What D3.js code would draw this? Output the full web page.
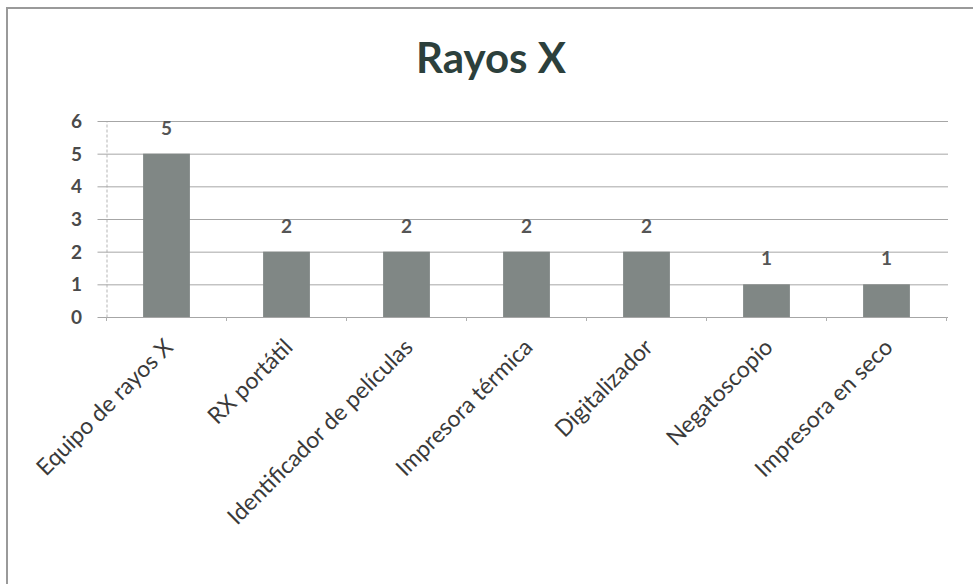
<!DOCTYPE html>
<html>
<head>
<meta charset="utf-8">
<script src="https://cdn.jsdelivr.net/npm/d3@7/dist/d3.min.js"></script>
<style>
  html, body { margin: 0; padding: 0; background: #ffffff; }
  svg { display: block; }
</style>
</head>
<body>
<svg id="chart" width="973" height="584"></svg>
<script>
// Equipment inventory for the X-ray service
const categories = [
  "Equipo de rayos X",
  "RX portátil",
  "Identificador de películas",
  "Impresora térmica",
  "Digitalizador",
  "Negatoscopio",
  "Impresora en seco"
];
const counts = [5, 2, 2, 2, 2, 1, 1];
const yTicks = [0, 1, 2, 3, 4, 5, 6];
const title = "Rayos X";

const svg = d3.select("#chart");
const W = 973, H = 584;
const plot = { left: 106.5, right: 946.5, top: 121, bottom: 317 };

// outer frame (left and top edges)
svg.append("path")
  .attr("d", `M7,${H} L7,8 L${W},8`)
  .attr("fill", "none")
  .attr("stroke", "#9a9a9a")
  .attr("stroke-width", 2);

const x = d3.scaleBand()
  .domain(categories)
  .range([plot.left, plot.right])
  .paddingInner(0.61)
  .paddingOuter(0.305);

const y = d3.scaleLinear()
  .domain([0, 6])
  .range([plot.bottom, plot.top]);

// horizontal gridlines with small ticks left of the axis
const yAxis = d3.axisLeft(y)
  .tickValues(yTicks)
  .tickSize(-(plot.right - plot.left + 1.5))
  .tickSizeOuter(0)
  .tickFormat("");
const gy = svg.append("g")
  .attr("transform", `translate(${plot.left},0)`)
  .call(yAxis);
gy.select(".domain").attr("stroke", "#b5b5b5").attr("stroke-dasharray", "3,2");
gy.selectAll(".tick line")
  .attr("stroke", "#a6a6a6")
  .attr("stroke-width", 1)
  .attr("x1", -9);

// y tick labels
svg.append("g").selectAll("text")
  .data(yTicks)
  .join("text")
  .attr("x", 82)
  .attr("y", d => y(d))
  .attr("dy", "0.36em")
  .attr("text-anchor", "end")
  .attr("font-family", "Lato, 'Open Sans', sans-serif")
  .attr("font-weight", 700)
  .attr("font-size", 19)
  .attr("fill", "#4a4a4a")
  .text(d => d);

// bars
svg.append("g").selectAll("rect")
  .data(categories)
  .join("rect")
  .attr("x", d => x(d))
  .attr("y", (d, i) => y(counts[i]))
  .attr("width", x.bandwidth())
  .attr("height", (d, i) => y(0) - y(counts[i]))
  .attr("fill", "#808785");

// x axis: baseline and category separator ticks
const xAxis = d3.axisBottom(x).tickSize(0).tickFormat("");
svg.append("g")
  .attr("transform", `translate(0,${plot.bottom})`)
  .call(xAxis)
  .select(".domain").attr("stroke", "#a6a6a6");
const step = x.step();
svg.append("g").selectAll("line")
  .data(d3.range(categories.length + 1))
  .join("line")
  .attr("x1", i => plot.left + i * step)
  .attr("x2", i => plot.left + i * step)
  .attr("y1", plot.bottom)
  .attr("y2", plot.bottom + 4)
  .attr("stroke", "#b0b0b0");

// value labels
svg.append("g").selectAll("text")
  .data(categories)
  .join("text")
  .attr("x", d => x(d) + x.bandwidth() / 2)
  .attr("y", (d, i) => y(counts[i]) - 19)
  .attr("text-anchor", "middle")
  .attr("font-family", "Lato, 'Open Sans', sans-serif")
  .attr("font-weight", 700)
  .attr("font-size", 19)
  .attr("fill", "#555555")
  .text((d, i) => counts[i]);

// rotated category labels
svg.append("g").selectAll("text")
  .data(categories)
  .join("text")
  .attr("transform", d => `translate(${x(d) + x.bandwidth() / 2 + 2},343) rotate(-45)`)
  .attr("dy", "0.35em")
  .attr("text-anchor", "end")
  .attr("font-family", "Lato, 'Open Sans', sans-serif")
  .attr("font-size", 23)
  .attr("fill", "#3a3a3a")
  .text(d => d);

// title
svg.append("text")
  .attr("x", 491)
  .attr("y", 73)
  .attr("text-anchor", "middle")
  .attr("font-family", "Lato, 'Open Sans', sans-serif")
  .attr("font-weight", 700)
  .attr("font-size", 42)
  .attr("fill", "#2c403c")
  .text(title);
</script>
</body>
</html>
